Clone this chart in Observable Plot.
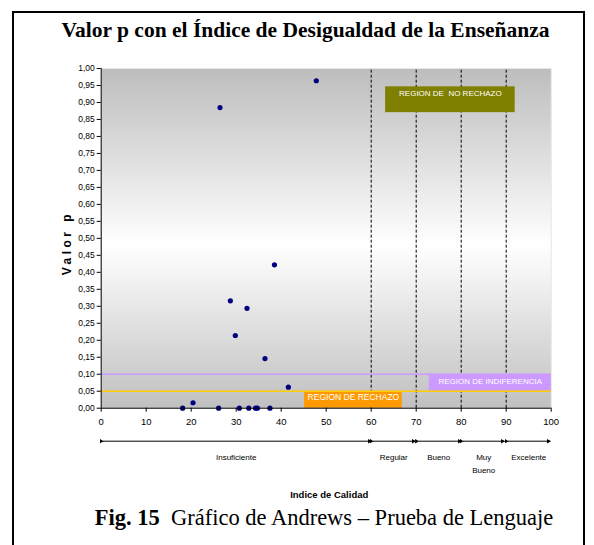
<!DOCTYPE html>
<html><head><meta charset="utf-8">
<script src="https://cdn.jsdelivr.net/npm/d3@7"></script>
<script src="https://cdn.jsdelivr.net/npm/@observablehq/plot@0.6"></script>
<style>
html,body{margin:0;padding:0;background:#fff;}
body{width:594px;height:545px;overflow:hidden;position:relative;font-family:"Liberation Sans",Arial,sans-serif;}
#frame{position:absolute;left:12px;top:11px;width:573px;height:545px;border:2px solid #000;border-bottom:none;box-sizing:border-box;}
#title{position:absolute;left:0;width:611px;top:20px;text-align:center;font:bold 21.5px/21.5px "Liberation Serif","Times New Roman",serif;white-space:nowrap;}
#chart{position:absolute;left:0;top:55px;}
#caption{position:absolute;left:0;width:648px;top:507px;text-align:center;font:22.5px/22.5px "Liberation Serif","Times New Roman",serif;white-space:nowrap;}
</style></head>
<body>
<div id="frame"></div>
<div id="title">Valor p con el Índice de Desigualdad de la Enseñanza</div>
<div id="chart"></div>
<div id="caption"><b>Fig. 15</b>&nbsp; Gráfico de Andrews – Prueba de Lenguaje</div>
<script>
// Data
const indice = [18.1, 20.4, 26.1, 26.4, 28.7, 29.8, 30.7, 32.4, 32.8, 34.3, 34.7, 36.4, 37.5, 38.5, 41.6, 47.8];
const valorP = [0.000, 0.016, 0.000, 0.885, 0.316, 0.214, 0.000, 0.294, 0.000, 0.000, 0.000, 0.146, 0.000, 0.422, 0.062, 0.964];

const xTicks = [0, 10, 20, 30, 40, 50, 60, 70, 80, 90, 100];
const yTicks = [0, 0.05, 0.10, 0.15, 0.20, 0.25, 0.30, 0.35, 0.40, 0.45, 0.50, 0.55, 0.60, 0.65, 0.70, 0.75, 0.80, 0.85, 0.90, 0.95, 1.00];

const cortes = [60, 70, 80, 90];
const umbralIndiferencia = [0.10];
const umbralRechazo = [0.05];

const categorias = ["Insuficiente", "Regular", "Bueno", "Muy\nBueno", "Excelente"];
const categoriaCentro = [30, 65, 75, 85, 95];
const flechaInicio = [0.4, 60.4, 70.5, 80.4, 90.4];
const flechaFin = [60, 69.8, 80, 89.6, 99.8];

const regionRechazo = [{nombre: "REGION DE RECHAZO", x1: 45.2, x2: 66.9, y1: 0, y2: 0.05}];
const regionIndiferencia = [{nombre: "REGION DE INDIFERENCIA", x1: 72.9, x2: 100, y1: 0.05, y2: 0.10}];
const regionNoRechazo = [{nombre: "REGION DE\u00a0 NO RECHAZO", x1: 63.2, x2: 92, y1: 0.87, y2: 0.946}];

const puntos = indice.map((x, i) => ({x, y: valorP[i]}));
const cats = categorias.map((c, i) => ({c, x: categoriaCentro[i], x1: flechaInicio[i], x2: flechaFin[i]}));

const fmt = d => d.toFixed(2).replace(".", ",");

function gradient() {
  const ns = "http://www.w3.org/2000/svg";
  const defs = document.createElementNS(ns, "defs");
  defs.innerHTML = '<linearGradient id="bg" x1="0" y1="0" x2="0" y2="1">' +
    '<stop offset="0" stop-color="#bdbdbd"/>' +
    '<stop offset="0.52" stop-color="#ffffff"/>' +
    '<stop offset="1" stop-color="#c0c0c0"/></linearGradient>';
  return defs;
}

const regionText = (data, dy, size) => Plot.text(data, {
  x: d => (d.x1 + d.x2) / 2, y: d => (d.y1 + d.y2) / 2, text: "nombre",
  fill: "white", fontSize: size, dy
});

const chart = Plot.plot({
  width: 594, height: 450,
  marginLeft: 100.7, marginRight: 43.3, marginTop: 13, marginBottom: 97.3,
  x: {domain: [0, 100]},
  y: {domain: [0, 1]},
  style: {fontFamily: '"Liberation Sans", Arial, sans-serif', background: "transparent", overflow: "visible", color: "black"},
  marks: [
    gradient,
    Plot.frame({fill: "url(#bg)", stroke: "#e6e6e6", strokeWidth: 1}),
    Plot.ruleX(cortes, {y1: 0, y2: 1, stroke: "black", strokeWidth: 1, strokeDasharray: "3,2"}),
    Plot.rect(regionRechazo, {x1: "x1", x2: "x2", y1: "y1", y2: "y2", fill: "#ff9900"}),
    Plot.rect(regionIndiferencia, {x1: "x1", x2: "x2", y1: "y1", y2: "y2", fill: "#cc99ff"}),
    Plot.rect(regionNoRechazo, {x1: "x1", x2: "x2", y1: "y1", y2: "y2", fill: "#808000"}),
    Plot.ruleY(umbralIndiferencia, {x1: 0, x2: 100, stroke: "#cc99ff", strokeWidth: 1.5}),
    Plot.ruleY(umbralRechazo, {x1: 0, x2: 100, stroke: "#ffcc00", strokeWidth: 1.5}),
    regionText(regionRechazo, -2, 8.5),
    regionText(regionIndiferencia, -1, 8),
    regionText(regionNoRechazo, -6, 8),
    Plot.dot(puntos, {x: "x", y: "y", r: 2.6, fill: "#000080", stroke: "none"}),
    Plot.ruleX([0], {stroke: "black"}),
    Plot.ruleY([0], {stroke: "black"}),
    Plot.axisY({ticks: yTicks, tickFormat: fmt, tickSize: 4, tickPadding: 2.5, fontSize: 8.5, label: null}),
    Plot.axisX({ticks: xTicks, tickSize: 4, tickPadding: 6, fontSize: 9.5, label: null}),
    Plot.link(cats, {x1: "x1", x2: "x2", y1: 0, y2: 0, dy: 33, stroke: "black", strokeWidth: 1, markerStart: "arrow", markerEnd: "arrow"}),
    Plot.text(cats, {x: "x", y: 0, text: "c", dy: 43.5, lineAnchor: "top", lineHeight: 1.55, fontSize: 8}),
    Plot.text(["Indice de Calidad"], {x: 50, y: 0, dx: 3, dy: 86.5, fontWeight: "bold", fontSize: 9.5}),
    Plot.text(["Valor p"], {frameAnchor: "left", dx: -34, dy: 37, rotate: -90, fontWeight: "bold", fontSize: 12})
  ]
});

// filled arrow heads and letter spacing
chart.querySelectorAll("marker").forEach(m => {
  m.setAttribute("fill", "black");
  m.setAttribute("stroke", "none");
  const p = m.querySelector("path");
  if (p) p.setAttribute("d", "M-5,-3.4L1,0L-5,3.4Z");
});
chart.querySelectorAll("text").forEach(t => {
  if (t.textContent === "Valor p") t.setAttribute("letter-spacing", "3.5");
});

document.getElementById("chart").appendChild(chart);
</script>
</body></html>
